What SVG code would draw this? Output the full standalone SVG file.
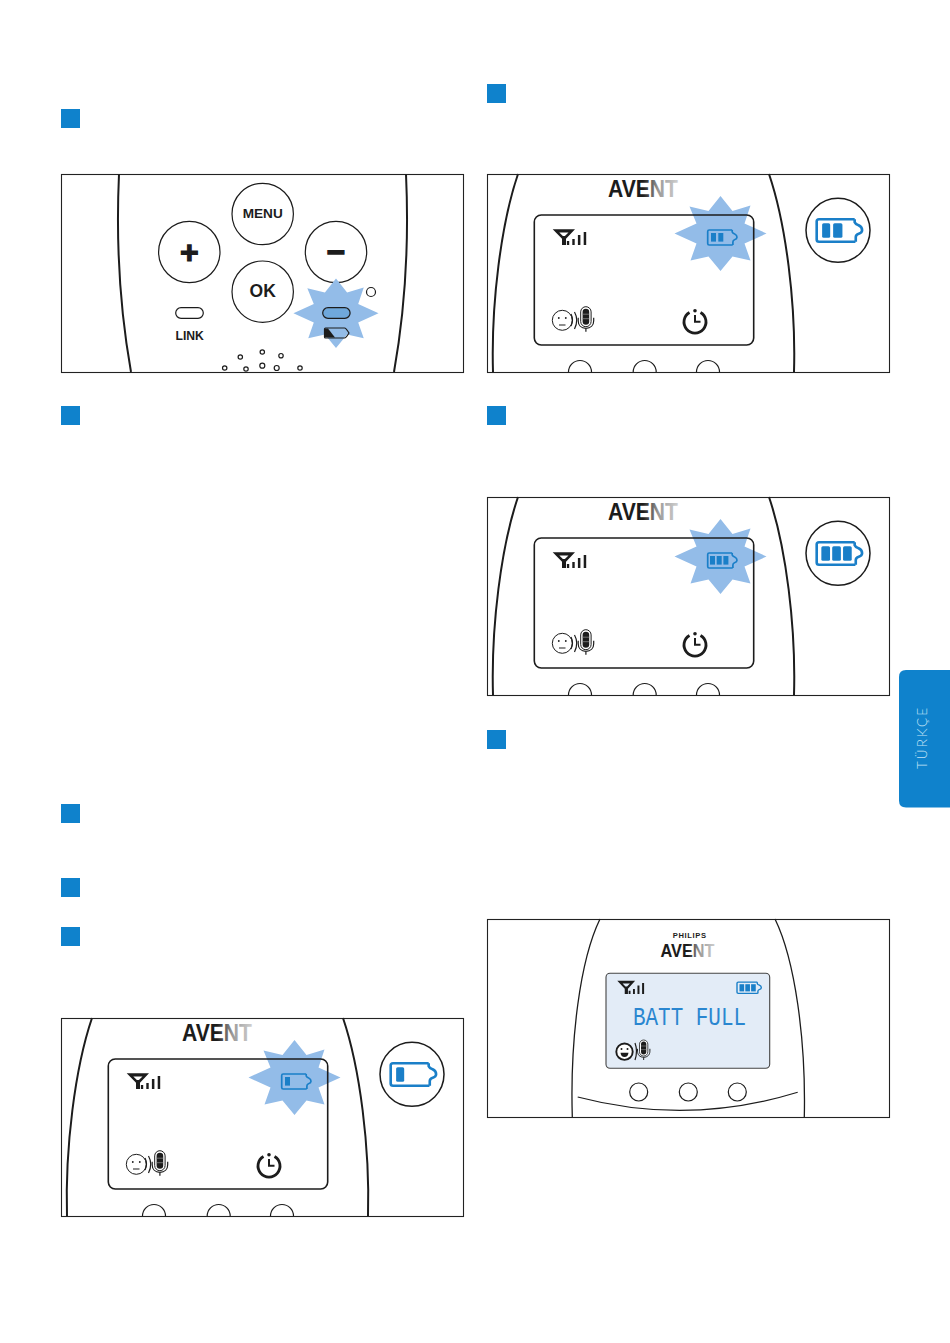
<svg xmlns="http://www.w3.org/2000/svg" width="950" height="1343" viewBox="0 0 950 1343">
<style>
.frame{fill:#fff;stroke:#222;stroke-width:1.1}
.sq{fill:#0f82cc}
.body{fill:none;stroke:#1c1c1c;stroke-width:2}
.body2{fill:none;stroke:#1c1c1c;stroke-width:1.3}
.ln{fill:none;stroke:#1c1c1c;stroke-width:1.2}
.star{fill:#93bce8}
.bat{fill:none;stroke:#1a7fc8;stroke-width:1.7;stroke-linejoin:round}
.seg{fill:#1a7fc8}
.k{fill:#1c1c1c}
text{font-family:"Liberation Sans",Arial,sans-serif}
.b{font-weight:700;fill:#1c1c1c;text-anchor:middle}
</style>
<defs>
<linearGradient id="logo" x1="0" x2="1" y1="0" y2="0">
<stop offset="0" stop-color="#1c1c1c"/><stop offset=".5" stop-color="#1c1c1c"/><stop offset=".72" stop-color="#9a9a9a"/><stop offset="1" stop-color="#cfcfcf"/>
</linearGradient>
<path id="starShape" class="star" d="M0,-37.5L12,-22.5L30,-28L24,-10L46,0L24,10L30,27L12,23L0,37.5L-12,23L-30,27L-24,10L-46,0L-24,-10L-31,-27L-12,-22.5Z"/>
<g id="signal">
<path class="k" d="M0,0H22.3L13.3,9.5V15.7H9.3V9.5ZM6.6,3.2L10.2,6.8H12.2L15.8,3.2Z" fill-rule="evenodd"/>
<path class="k" d="M14.2,11.7h2.3v4h-2.3zM19.6,9.7h2.4v6h-2.4zM25.2,5.7h2.5v10h-2.5zM31,2.7h2.5v13H31z"/>
</g>
<g id="mic">
<rect x="0" y="0" width="10.4" height="20" rx="5.2" fill="#fff" stroke="#1c1c1c" stroke-width="1"/>
<rect x="1.9" y="2" width="6.6" height="16" rx="3.3" class="k"/>
<path d="M1.9,7.5h6.6M1.9,12h6.6" stroke="#888" stroke-width=".8"/>
<path class="ln" stroke-width="1" d="M-2.5,11V14C-2.5,18.5 0.5,21.6 5.2,21.6C10,21.6 13,18.5 13,14V11M5.2,21.6V25"/>
</g>
<g id="unit">
<path class="body" d="M31,0C14,50 4,130 6,198"/>
<path class="body" d="M282,0C299,50 309,130 307,198"/>
<text x="121" y="23.3" font-size="23" font-weight="700" textLength="70" lengthAdjust="spacingAndGlyphs" fill="url(#logo)">AVENT</text>
<use href="#starShape" x="233.5" y="59.5"/>
<rect x="47.3" y="41" width="219.4" height="130" rx="7" fill="none" stroke="#1c1c1c" stroke-width="1.6"/>
<use href="#signal" x="65.7" y="55.3"/>
<circle cx="75.3" cy="146.3" r="10" fill="none" stroke="#1c1c1c" stroke-width="1"/>
<circle cx="71.8" cy="144" r=".9" class="k"/><circle cx="78.8" cy="144" r=".9" class="k"/>
<path class="ln" stroke-width="1" d="M72,151H78.5M87.5,138Q92,146 87.5,155M84,140Q87,146 84,152"/>
<use href="#mic" x="93.7" y="132.7"/>
<path d="M202.5,138.5A11,11 0 1 0 213.5,138.5" fill="none" stroke="#1c1c1c" stroke-width="2.8"/>
<circle cx="208" cy="136.7" r="1.8" class="k"/>
<path d="M208,141V147.7H213.5" fill="none" stroke="#1c1c1c" stroke-width="2"/>
<circle cx="351" cy="56.3" r="32" fill="#fff" stroke="#1c1c1c" stroke-width="1.5"/>
<path class="ln" stroke-width="2" d="M81.5,198A11.5,11.5 0 0 1 104.5,198M146.2,198A11.5,11.5 0 0 1 169.2,198M209.5,198A11.5,11.5 0 0 1 232.5,198"/>
</g>
<path id="batShape" class="bat" d="M24.5,.5H1.5Q0,.5 0,2V14Q0,15.5 1.5,15.5H25M24.5,.5V2.5Q25,3.8 27,4.5Q29.3,5.5 29.3,7.8Q29.3,9.5 26.8,10.3Q25.2,11 25.2,12.5V15.5"/>
</defs>
<rect width="950" height="1343" fill="#fff"/>
<g id="step-squares">
<rect class="sq" x="61" y="109" width="19" height="19"/>
<rect class="sq" x="487" y="84" width="19" height="19"/>
<rect class="sq" x="61" y="406" width="19" height="19"/>
<rect class="sq" x="487" y="406" width="19" height="19"/>
<rect class="sq" x="487" y="730" width="19" height="19"/>
<rect class="sq" x="61" y="804" width="19" height="19"/>
<rect class="sq" x="61" y="878" width="19" height="19"/>
<rect class="sq" x="61" y="927" width="19" height="19"/>
</g>
<g id="panel-buttons">
<rect class="frame" x="61.5" y="174.5" width="402" height="198"/>
<path class="body" d="M119,174C116,240 120,310 131,372"/>
<path class="body" d="M406,174C409,240 405,310 394,372"/>
<g class="ln">
<circle cx="262.7" cy="214" r="30.7"/><circle cx="189.3" cy="252" r="30.7"/><circle cx="336" cy="252" r="30.7"/><circle cx="262.7" cy="291.7" r="30.7"/>
</g>
<text class="b" x="262.7" y="218.3" font-size="13.6">MENU</text>
<text class="b" x="189.3" y="263" font-size="32" stroke="#1c1c1c" stroke-width="1.2">+</text>
<text class="b" x="336" y="263" font-size="32" stroke="#1c1c1c" stroke-width="1.2">−</text>
<text class="b" x="262.7" y="297.3" font-size="17.5">OK</text>
<rect class="ln" x="175.7" y="307.7" width="27.6" height="10.6" rx="5.3"/>
<text class="b" x="189.7" y="340.3" font-size="12.2">LINK</text>
<use href="#starShape" transform="translate(336 313.3) scale(.925)"/>
<rect x="322.7" y="307.7" width="27.4" height="10.6" rx="5.3" fill="#6fa8dc" stroke="#1c1c1c" stroke-width="1.2"/>
<path d="M325.5,328H344.5Q346,328 349,333Q346,338 344.5,338H325.5Q324.5,338 324.5,337V329Q324.5,328 325.5,328Z" fill="none" stroke="#1c1c1c" stroke-width="1.2"/>
<path class="k" d="M325,328.5H328L335,337.5H325Z"/>
<circle cx="371" cy="292" r="4.5" class="ln"/>
<g class="ln" stroke-width="1">
<circle cx="240.3" cy="357" r="2.2"/><circle cx="262.3" cy="352" r="2.2"/><circle cx="281" cy="355.7" r="2.2"/><circle cx="224.7" cy="368" r="2.2"/><circle cx="246" cy="369" r="2.2"/><circle cx="262.3" cy="365.7" r="2.5"/><circle cx="276.7" cy="368" r="2.5"/><circle cx="300" cy="368" r="2.2"/>
</g>
</g>
<g id="panel-two-bars" transform="translate(487 174)">
<rect class="frame" x=".5" y=".5" width="402" height="198"/>
<use href="#unit"/>
<use href="#batShape" x="220.7" y="55.5"/>
<rect class="seg" x="224" y="59" width="5" height="8.6"/><rect class="seg" x="231.3" y="59" width="5" height="8.6"/>
<g transform="translate(329.7 44.5) scale(1.55 1.5)">
<use href="#batShape"/>
<rect class="seg" x="3.5" y="3.2" width="5.2" height="9.6" rx="1"/><rect class="seg" x="10.6" y="3.2" width="6" height="9.6" rx="1"/>
</g>
</g>
<g id="panel-three-bars" transform="translate(487 497)">
<rect class="frame" x=".5" y=".5" width="402" height="198"/>
<use href="#unit"/>
<use href="#batShape" x="220.7" y="55.5"/>
<rect class="seg" x="223" y="59" width="5" height="8.6"/><rect class="seg" x="229.7" y="59" width="5" height="8.6"/><rect class="seg" x="236.4" y="59" width="5" height="8.6"/>
<g transform="translate(329.7 44.5) scale(1.55 1.5)">
<use href="#batShape"/>
<rect class="seg" x="3" y="3.2" width="5.6" height="9.6" rx="1"/><rect class="seg" x="10" y="3.2" width="5.6" height="9.6" rx="1"/><rect class="seg" x="17" y="3.2" width="5.6" height="9.6" rx="1"/>
</g>
</g>
<g id="panel-one-bar" transform="translate(61 1018)">
<rect class="frame" x=".5" y=".5" width="402" height="198"/>
<use href="#unit"/>
<use href="#batShape" x="220.7" y="55.5"/>
<rect class="seg" x="224" y="59" width="5" height="8.6"/>
<g transform="translate(329.7 44.5) scale(1.55 1.5)">
<use href="#batShape"/>
<rect class="seg" x="3.5" y="3.2" width="5.2" height="9.6" rx="1"/>
</g>
</g>
<g id="panel-batt-full">
<rect class="frame" x="487.5" y="919.5" width="402" height="198"/>
<path class="body2" d="M600,919C580,960 570,1040 572.3,1117"/>
<path class="body2" d="M775,919C795,960 806,1040 804.3,1117"/>
<text class="b" x="689.7" y="937.7" font-size="7.6" letter-spacing=".6">PHILIPS</text>
<text x="660.5" y="956.7" font-size="18.5" font-weight="700" textLength="54" lengthAdjust="spacingAndGlyphs" fill="url(#logo)">AVENT</text>
<rect x="606" y="973.3" width="163.7" height="95" rx="4" fill="#e3ecf7" stroke="#444" stroke-width="1.1"/>
<use href="#signal" transform="translate(617.3 980.7) scale(.8 .85)"/>
<g transform="translate(737 981.8) scale(.83 .75)">
<use href="#batShape"/>
<rect class="seg" x="3" y="3.2" width="5.6" height="9.6"/><rect class="seg" x="10" y="3.2" width="5.6" height="9.6"/><rect class="seg" x="17" y="3.2" width="5.6" height="9.6"/>
</g>
<text x="633" y="1025.3" font-size="26" textLength="113" lengthAdjust="spacingAndGlyphs" fill="#2a86d0" style="font-family:'Liberation Mono',monospace">BATT FULL</text>
<circle cx="624.5" cy="1051.7" r="8.2" fill="#fff" stroke="#1c1c1c" stroke-width="1.9"/>
<circle cx="621.5" cy="1049" r="1" class="k"/><circle cx="627.5" cy="1049" r="1" class="k"/>
<path class="k" d="M620.5,1052.8H628.5Q628,1057 624.5,1057Q621,1057 620.5,1052.8Z"/>
<path class="ln" stroke-width="1" d="M635,1043Q638,1051 635,1060"/>
<use href="#mic" transform="translate(639.5 1040) scale(.8)"/>
<g class="ln" stroke-width="1">
<circle cx="638.7" cy="1092" r="9"/><circle cx="688.3" cy="1092" r="9"/><circle cx="737.3" cy="1092" r="9"/>
<path d="M577.7,1097Q688,1126 797.7,1092.3"/>
</g>
</g>
<g id="language-tab">
<path class="sq" d="M950,670H906Q899,670 899,677V800.5Q899,807.5 906,807.5H950Z"/>
<text transform="translate(926.5 769) rotate(-90)" font-size="13.5" textLength="61" fill="#c4e2f6" style="font-family:Lato,'Open Sans',sans-serif;font-weight:300">TÜRKÇE</text>
</g>
</svg>
